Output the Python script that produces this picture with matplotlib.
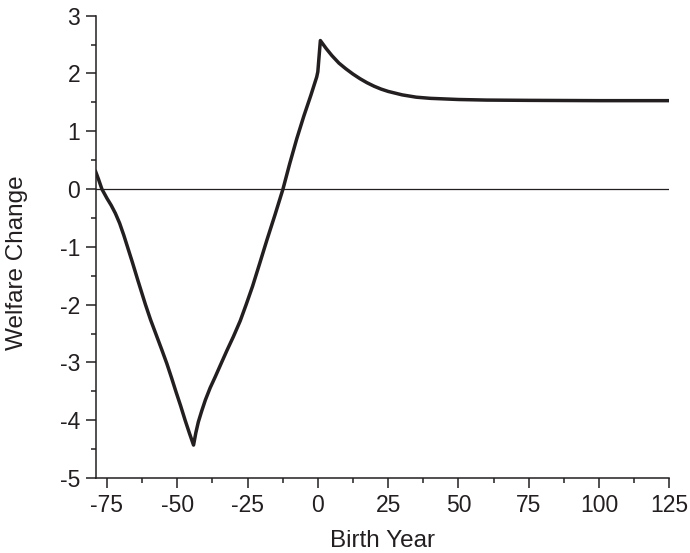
import matplotlib
matplotlib.use("Agg")
import matplotlib.pyplot as plt
from matplotlib.ticker import MultipleLocator

plt.rcParams['font.family'] = ['Liberation Sans', 'DejaVu Sans']
plt.rcParams['axes.unicode_minus'] = False

birth_year = [-79, -78, -76.8, -75, -73.5, -72, -70.5, -69, -67.5, -66, -64, -61.3, -59.5, -57.5,
              -55.5, -53.7, -52, -50.5, -48.8, -47.2, -45.7, -44.2,
              -43.4, -42.5, -41.3, -40, -38.3, -36.5, -34.5, -32.3, -30, -27.6, -25.5, -23.2,
              -20.7, -18.1, -15.2, -12.4, -10, -7.5, -5, -2.5, -0.4, 0.0,
              0.9, 3, 5, 7.5, 10, 12.5, 15, 17.5, 20, 22.5, 25, 30, 35, 40, 50, 60, 75, 100, 125]
welfare_change = [0.30, 0.17, 0.0, -0.16, -0.28, -0.42, -0.59, -0.80, -1.03, -1.26, -1.58, -2.00,
                  -2.26, -2.52, -2.78, -3.02, -3.27, -3.50, -3.75, -4.00, -4.22, -4.43,
                  -4.22, -4.03, -3.84, -3.65, -3.44, -3.25, -3.03, -2.79, -2.55, -2.28, -2.00, -1.68,
                  -1.29, -0.88, -0.44, 0.0, 0.44, 0.87, 1.26, 1.62, 1.94, 2.03,
                  2.57, 2.43, 2.31, 2.18, 2.08, 1.99, 1.91, 1.84, 1.78, 1.73, 1.69, 1.63, 1.59, 1.57,
                  1.55, 1.54, 1.535, 1.53, 1.53]

x_ticks = [-75, -50, -25, 0, 25, 50, 75, 100, 125]
y_ticks = [-5, -4, -3, -2, -1, 0, 1, 2, 3]

ink = '#231f20'

fig = plt.figure(figsize=(6.9, 5.53), dpi=100)
ax = fig.add_axes([0.1387, 0.1356, 0.970 - 0.1387, 0.9716 - 0.1356])

ax.axhline(0, color=ink, lw=0.9, zorder=1)
ax.plot(birth_year, welfare_change, color=ink, lw=2.5, solid_joinstyle='round', zorder=2)

ax.set_xlim(-79, 125)
ax.set_ylim(-5, 3)
ax.set_xticks(x_ticks)
ax.set_yticks(y_ticks)
ax.xaxis.set_minor_locator(MultipleLocator(12.5))
ax.yaxis.set_minor_locator(MultipleLocator(0.5))

for s in ['top', 'right']:
    ax.spines[s].set_visible(False)
for s in ['left', 'bottom']:
    ax.spines[s].set_color(ink)
    ax.spines[s].set_linewidth(1.1)

ax.tick_params(which='major', direction='out', length=7.3, width=1.1, color=ink,
               labelsize=16.5, labelcolor=ink, pad=4)
ax.tick_params(which='minor', direction='out', length=3.8, width=1.1, color=ink)

ax.set_xlabel('Birth Year', fontsize=17.5, color=ink, va='center', ha='center')
ax.set_ylabel('Welfare Change', fontsize=17.5, color=ink, va='center', ha='center')
ax.xaxis.set_label_coords(0.5, -0.137)
ax.yaxis.set_label_coords(-0.137, 0.465)

fig.savefig('out.png', dpi=100)
